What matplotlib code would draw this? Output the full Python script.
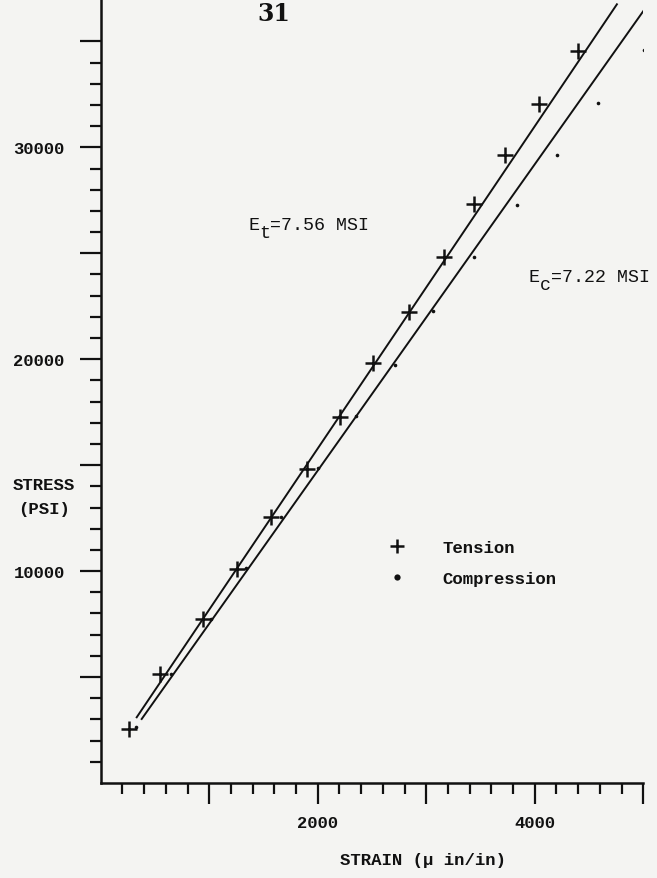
import matplotlib.pyplot as plt
from matplotlib.ticker import FixedLocator, FuncFormatter
from matplotlib.lines import Line2D

# Test data (strain in micro in/in, stress in psi)
TENSION_STRAIN = [264, 550, 939, 1253, 1571, 1901, 2206, 2509, 2837,
                  3160, 3438, 3730, 4035, 4400]
TENSION_STRESS = [2570, 5130, 7720, 10090, 12530, 14840, 17280, 19800, 22240,
                  24830, 27310, 29650, 32050, 34530]

COMPRESSION_STRAIN = [324, 650, 1012, 1340, 1665, 2005, 2355, 2710, 3060,
                      3438, 3835, 4207, 4580, 5006]
COMPRESSION_STRESS = [2640, 5160, 7760, 10160, 12570, 14880, 17330, 19750, 22260,
                      24830, 27260, 29640, 32080, 34590]

# fitted lines (end points)
TENSION_FIT_STRAIN = [331, 4757]
TENSION_FIT_STRESS = [3100, 36750]
COMPRESSION_FIT_STRAIN = [377, 5024]
COMPRESSION_FIT_STRESS = [3020, 36600]

Y_LABELED = [10000, 20000, 30000]
X_LABELED = [2000, 4000]

BG = '#f4f4f2'
INK = '#111111'
MONO = 'Liberation Mono'

fig = plt.figure(figsize=(6.57, 8.79), dpi=100, facecolor=BG)
ax = fig.add_axes([0.1534, 0.1081, 0.8257, 0.8919])
ax.set_facecolor(BG)

ax.plot(TENSION_FIT_STRAIN, TENSION_FIT_STRESS, color=INK, lw=1.4)
ax.plot(COMPRESSION_FIT_STRAIN, COMPRESSION_FIT_STRESS, color=INK, lw=1.4)
ax.plot(TENSION_STRAIN, TENSION_STRESS, '+', color=INK, ms=11, mew=1.8)
ax.plot(COMPRESSION_STRAIN, COMPRESSION_STRESS, 'o', color=INK, ms=2.6, mew=0)

ax.set_xlim(0, 5000)
ax.set_ylim(0, 37000)

# axes: only left and bottom, heavy typed look
for side in ['top', 'right']:
    ax.spines[side].set_visible(False)
for side in ['left', 'bottom']:
    ax.spines[side].set_linewidth(1.8)
    ax.spines[side].set_color(INK)

# no tick at the origin
ax.xaxis.set_major_locator(FixedLocator(range(1000, 5001, 1000)))
ax.xaxis.set_minor_locator(FixedLocator(range(200, 5000, 200)))
ax.yaxis.set_major_locator(FixedLocator(range(5000, 36000, 5000)))
ax.yaxis.set_minor_locator(FixedLocator(range(1000, 36000, 1000)))
ax.xaxis.set_major_formatter(FuncFormatter(lambda v, p: f'{v:.0f}' if v in X_LABELED else ''))
ax.yaxis.set_major_formatter(FuncFormatter(lambda v, p: f'{v:.0f}' if v in Y_LABELED else ''))

ax.tick_params(axis='both', which='major', length=15, width=1.6, color=INK,
               direction='out', labelsize=12.3, labelcolor=INK)
ax.tick_params(axis='both', which='minor', length=7.8, width=1.6, color=INK,
               direction='out')
ax.tick_params(axis='x', which='major', pad=8)
ax.tick_params(axis='y', which='major', pad=11)
for lab in ax.get_xticklabels() + ax.get_yticklabels():
    lab.set_family(MONO)
    lab.set_weight('bold')

ax.set_xlabel('STRAIN (\u03bc in/in)', family=MONO, weight='bold', fontsize=12.5, color=INK)
ax.xaxis.set_label_coords(0.594, -0.088)
ax.set_ylabel('STRESS\n(PSI)', family=MONO, weight='bold', fontsize=12.5, color=INK,
              rotation=0, ha='center', va='center', linespacing=1.75)
ax.yaxis.set_label_coords(-0.105, 0.365)


def modulus_label(x, y, sub, rest, fs=13.2):
    # typewriter style: subscript is a full size letter typed half a line down
    ax.text(x, y, 'E', family=MONO, fontsize=fs, color=INK, va='center', ha='left')
    ax.annotate(sub, (x, y), xytext=(0.6 * fs, -0.45 * fs), textcoords='offset points',
                family=MONO, fontsize=fs, color=INK, va='center', ha='left')
    ax.annotate(rest, (x, y), xytext=(1.2 * fs, 0), textcoords='offset points',
                family=MONO, fontsize=fs, color=INK, va='center', ha='left')


modulus_label(1357, 26350, 't', '=7.56 MSI')
modulus_label(3946, 23900, 'c', '=7.22 MSI')

handles = [Line2D([], [], ls='none', marker='+', ms=10, mew=1.8, color=INK),
           Line2D([], [], ls='none', marker='o', ms=4.5, mew=0, color=INK)]
leg = ax.legend(handles, ['Tension', 'Compression'], loc='upper left',
                bbox_to_anchor=(0.502, 0.330), frameon=False,
                handlelength=1.0, handletextpad=2.08, labelspacing=0.92,
                prop={'family': MONO, 'weight': 'bold', 'size': 12.5})
for t in leg.get_texts():
    t.set_color(INK)

# page number
fig.text(274 / 657, 1 - 14 / 879, '31', fontsize=17, weight='bold',
         family='DejaVu Serif', ha='center', va='center', color=INK)

fig.savefig('out.png', dpi=100, facecolor=BG)
